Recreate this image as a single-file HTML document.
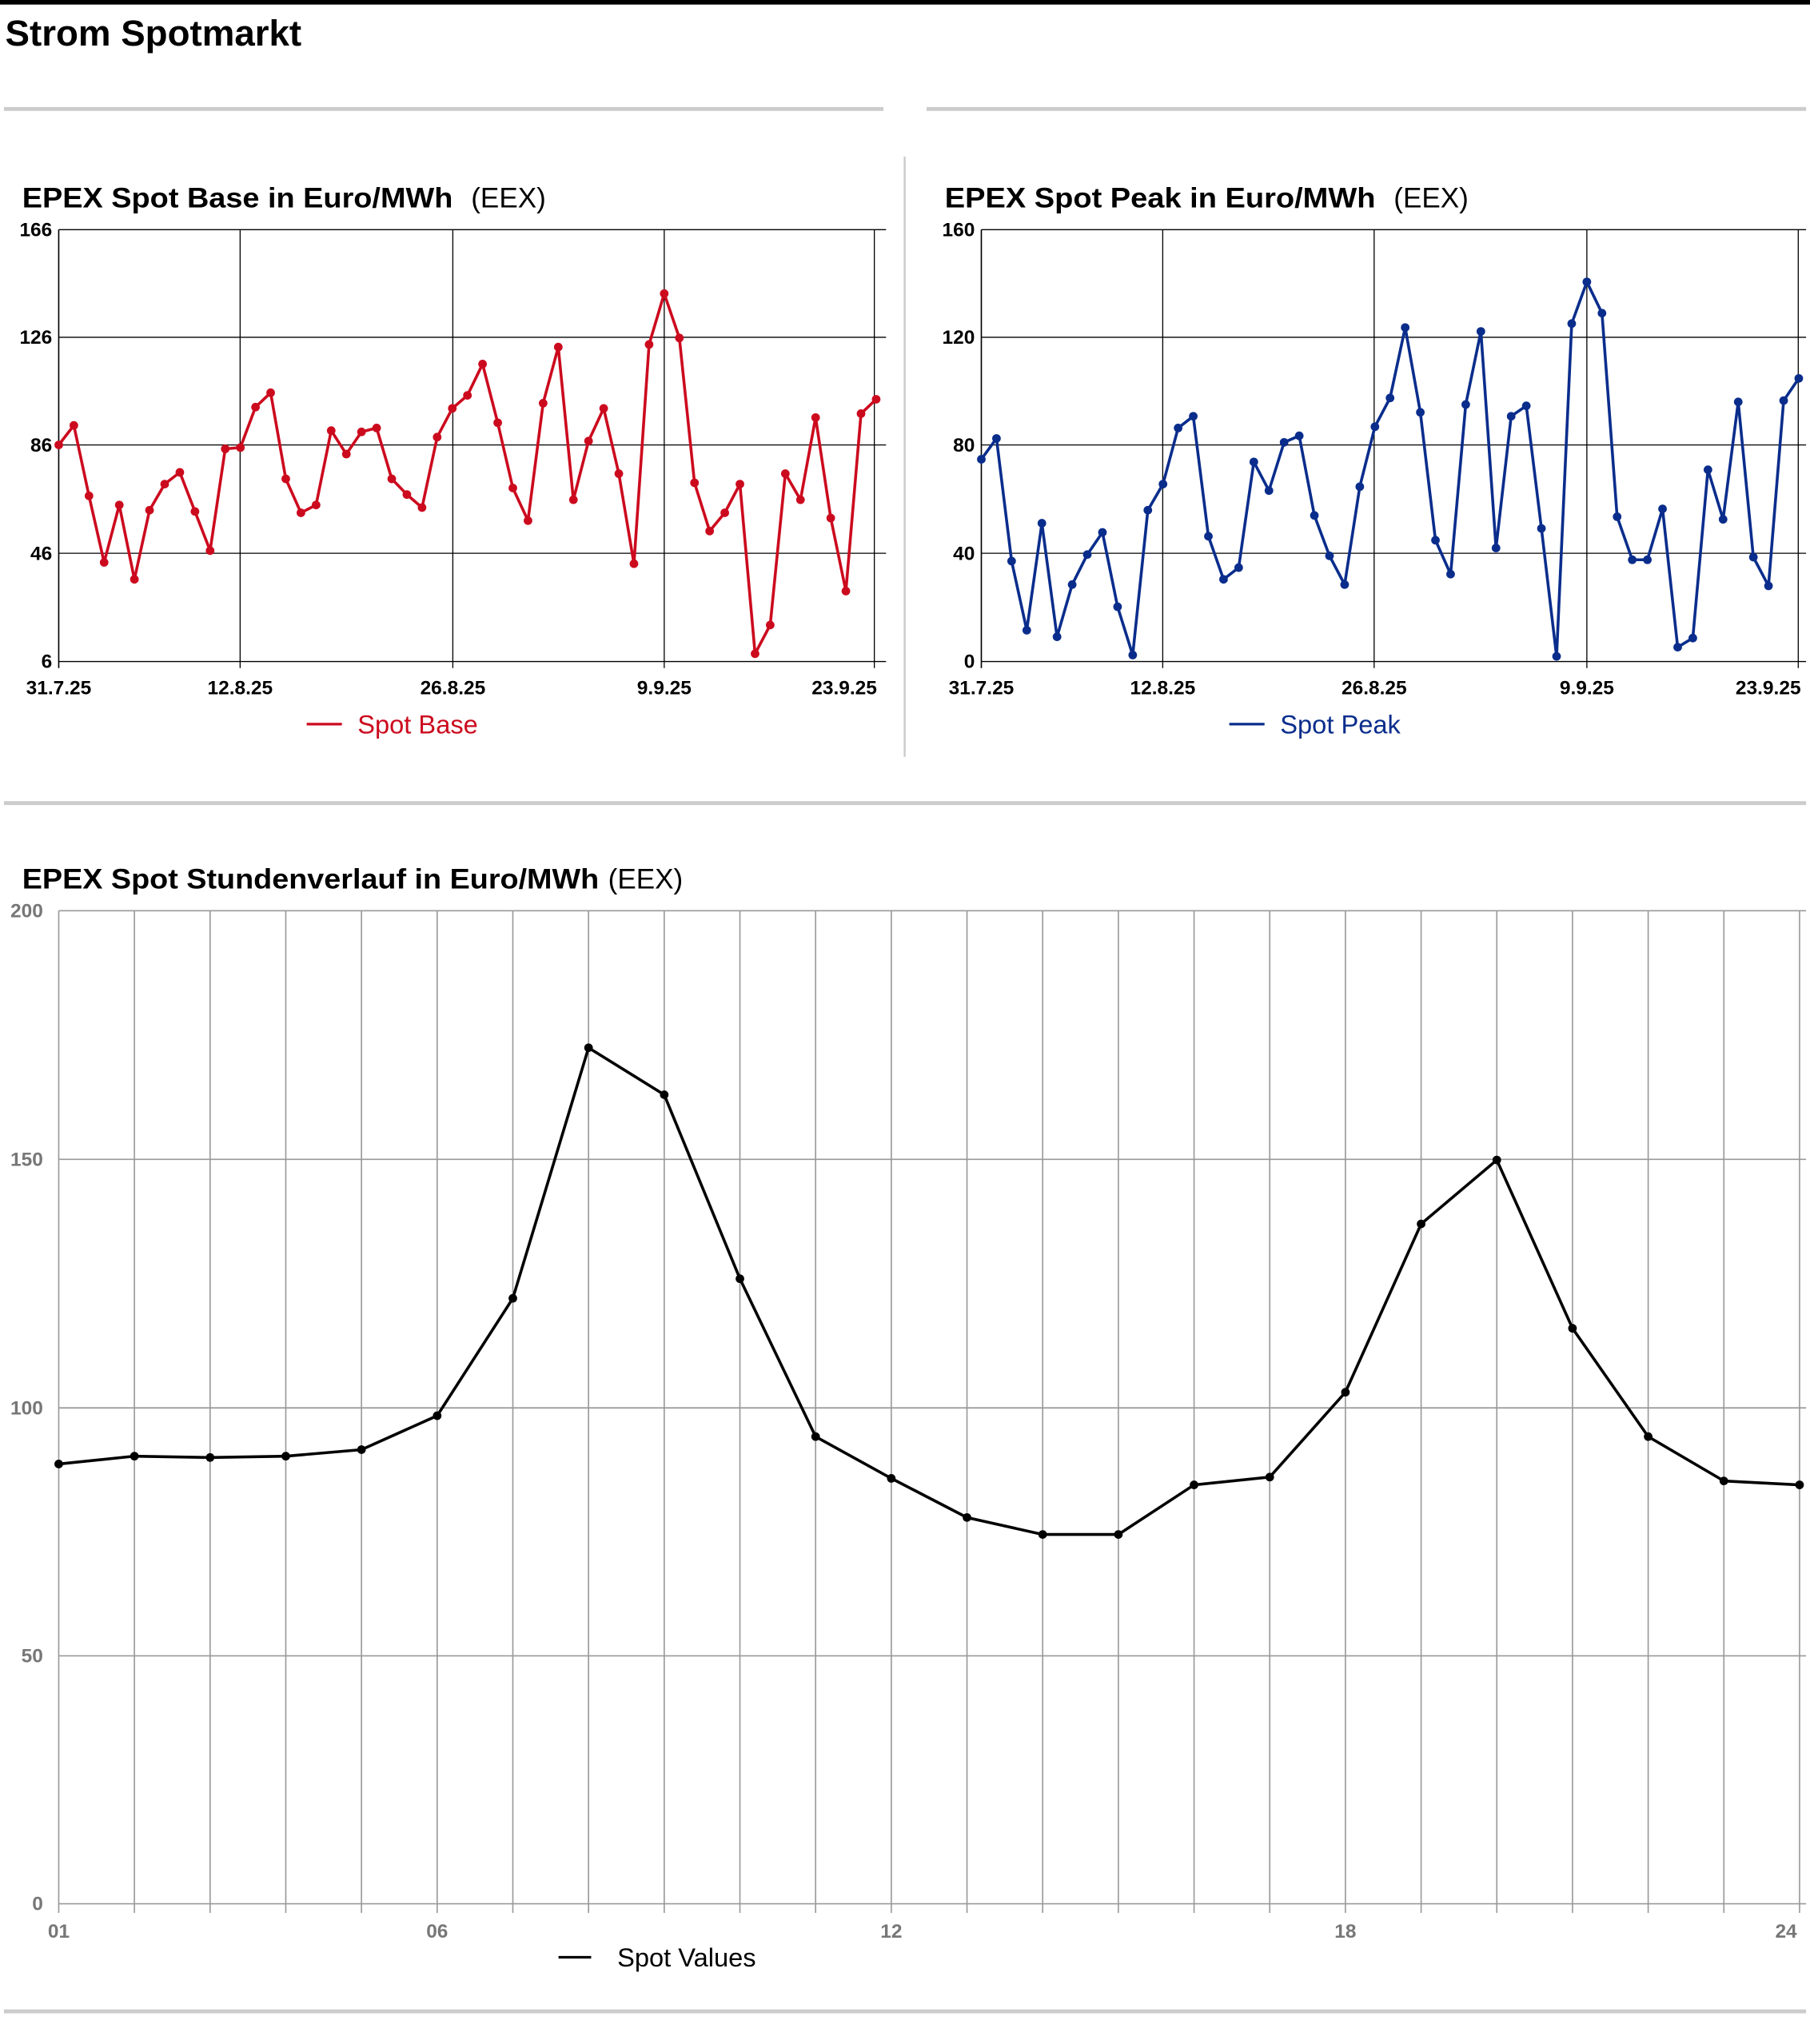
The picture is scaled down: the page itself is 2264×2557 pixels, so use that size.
<!DOCTYPE html>
<html><head><meta charset="utf-8"><style>html,body{margin:0;padding:0;background:#fff}svg{display:block}text{font-family:"Liberation Sans",Arial,sans-serif}</style></head>
<body>
<svg xmlns="http://www.w3.org/2000/svg" width="2264" height="2557" viewBox="0 0 1387 1566.5" preserveAspectRatio="none">
<rect x="0" y="0" width="1387" height="3.5" fill="#000"/>
<text x="4" y="35" font-size="28" font-weight="bold">Strom Spotmarkt</text>
<rect x="3" y="82" width="674" height="3" fill="#ccc"/>
<rect x="710" y="82" width="674" height="3" fill="#ccc"/>
<rect x="692.5" y="120" width="1.5" height="460" fill="#ccc"/>
<rect x="3" y="614" width="1381" height="3" fill="#ccc"/>
<rect x="3" y="1540" width="1381" height="3" fill="#ccc"/>
<g id="c1"></g>
<g id="c2"></g>
<g id="c3"></g>
</svg>
<script>
const NS="http://www.w3.org/2000/svg";
function el(p,t,a,txt){const e=document.createElementNS(NS,t);for(const k in a)e.setAttribute(k,a[k]);if(txt!==undefined)e.textContent=txt;p.appendChild(e);return e;}
function small(g,x0,x1,title,ylabels,vx,xl,color,legend,lx,ys){
 el(g,'text',{x:x0-28,y:159,'font-size':21.5,'font-weight':'bold',textLength:330,lengthAdjust:'spacingAndGlyphs'},title);
 el(g,'text',{x:x0+316,y:159,'font-size':21.5},'(EEX)');
 const yp=[176,258.5,341,424,507];
 yp.forEach((y,i)=>{el(g,'line',{x1:x0,x2:x1,y1:y,y2:y,stroke:'#000','stroke-width':0.8});
  el(g,'text',{x:x0-5,y:y+5,'font-size':15,'font-weight':'bold','text-anchor':'end'},ylabels[i]);});
 el(g,'line',{x1:x0,x2:x0,y1:176,y2:512,stroke:'#000','stroke-width':1});
 vx.forEach((x,i)=>{el(g,'line',{x1:x,x2:x,y1:176,y2:512,stroke:'#000','stroke-width':0.8});
  el(g,'text',{x:i==3?x+2:x,y:532,'font-size':15,'font-weight':'bold','text-anchor':i==3?'end':'middle'},xl[i]);});
 const pts=ys.map((y,i)=>[x0+i*11.6,y]);
 el(g,'polyline',{points:pts.map(p=>p.join(',')).join(' '),fill:'none',stroke:color,'stroke-width':2.2,'stroke-linejoin':'round'});
 pts.forEach(p=>el(g,'circle',{cx:p[0],cy:p[1],r:3.3,fill:color}));
 el(g,'line',{x1:lx,x2:lx+27,y1:555,y2:555,stroke:color,'stroke-width':2});
 el(g,'text',{x:lx+39,y:562,'font-size':20,fill:color},legend);
}
small(document.getElementById('c1'),45,679,'EPEX Spot Base in Euro/MWh',['166','126','86','46','6'],[184,347,509,670],['12.8.25','26.8.25','9.9.25','23.9.25'],'#cc0a1e','Spot Base',235,
[341,326,380,431,387,444,391,371,362,392,422,344,343,312,301,367,393,387,330,348,331,328,367,379,389,335,313,303,279,324,374,399,309,266,383,338,313,363,432,264,225,259,370,407,393,371,501,479,363,383,320,397,453,317,306]);
el(document.getElementById('c1'),'text',{x:45,y:532,'font-size':15,'font-weight':'bold','text-anchor':'middle'},'31.7.25');
small(document.getElementById('c2'),752,1384,'EPEX Spot Peak in Euro/MWh',['160','120','80','40','0'],[891,1053,1216,1378],['12.8.25','26.8.25','9.9.25','23.9.25'],'#0a2d8c','Spot Peak',942,
[352,336,430,483,401,488,448,425,408,465,502,391,371,328,319,411,444,435,354,376,339,334,395,426,448,373,327,305,251,316,414,440,310,254,420,319,311,405,503,248,216,240,396,429,429,390,496,489,360,398,308,427,449,307,290]);
el(document.getElementById('c2'),'text',{x:752,y:532,'font-size':15,'font-weight':'bold','text-anchor':'middle'},'31.7.25');
(function(){
 const g=document.getElementById('c3');
 el(g,'text',{x:17,y:681,'font-size':21.5,'font-weight':'bold',textLength:442,lengthAdjust:'spacingAndGlyphs'},'EPEX Spot Stundenverlauf in Euro/MWh');
 el(g,'text',{x:466,y:681,'font-size':21.5},'(EEX)');
 const yl=['200','150','100','50','0'];
 [698,888.5,1079,1269,1459].forEach((y,i)=>{el(g,'line',{x1:45,x2:1384,y1:y,y2:y,stroke:'#999','stroke-width':1});
  el(g,'text',{x:33,y:y+5,'font-size':15,'font-weight':'bold','text-anchor':'end',fill:'#777'},yl[i]);});
 for(let h=0;h<24;h++){const x=45+h*58;el(g,'line',{x1:x,x2:x,y1:698,y2:1466,stroke:'#999','stroke-width':1});}
 [[0,'01'],[5,'06'],[11,'12'],[17,'18']].forEach(([h,t])=>el(g,'text',{x:45+h*58,y:1485,'font-size':15,'font-weight':'bold','text-anchor':'middle',fill:'#777'},t));
 el(g,'text',{x:1377,y:1485,'font-size':15,'font-weight':'bold','text-anchor':'end',fill:'#777'},'24');
 const ys=[1122,1116,1117,1116,1111,1085,995,803,839,980,1101,1133,1163,1176,1176,1138,1132,1067,938,889,1018,1101,1135,1138];
 const pts=ys.map((y,i)=>[45+i*58,y]);
 el(g,'polyline',{points:pts.map(p=>p.join(',')).join(' '),fill:'none',stroke:'#000','stroke-width':2.2});
 pts.forEach(p=>el(g,'circle',{cx:p[0],cy:p[1],r:3.3,fill:'#000'}));
 el(g,'line',{x1:428,x2:453,y1:1500,y2:1500,stroke:'#000','stroke-width':2});
 el(g,'text',{x:473,y:1507,'font-size':20},'Spot Values');
})();
</script>
</body></html>
